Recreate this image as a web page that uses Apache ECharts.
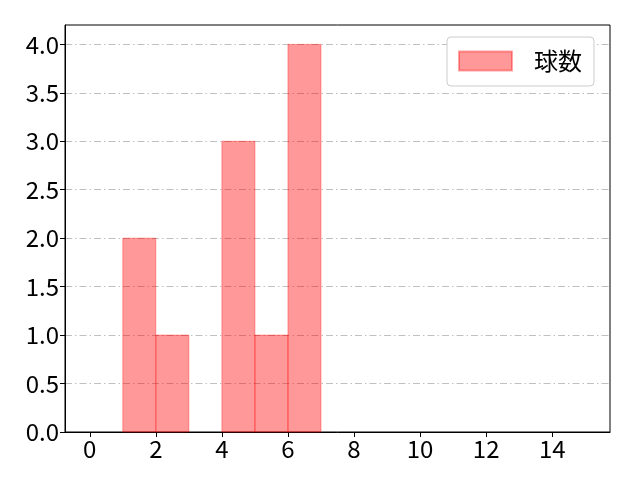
<!DOCTYPE html>
<html><head><meta charset="utf-8">
<script src="https://cdn.jsdelivr.net/npm/echarts@6/dist/echarts.min.js"></script>
<style>html,body{margin:0;padding:0;background:#fff}#c{width:640px;height:480px}</style>
</head><body><div id="c"></div>
<script>
const binStarts = [0,1,2,3,4,5,6,7,8,9,10,11,12,13,14];
const counts    = [0,2,1,0,3,1,4,0,0,0,0,0,0,0,0];
const binWidth = 1;
const xTicks = [0,2,4,6,8,10,12,14];
const yTicks = [0,0.5,1,1.5,2,2.5,3,3.5,4];
const seriesName = '球数';

const data = binStarts.map((s,i)=>[s, s+binWidth, counts[i]]).filter(d=>d[2]>0);
const font = '"Noto Sans CJK JP", "DejaVu Sans", sans-serif';
const chart = echarts.init(document.getElementById('c'), null, {renderer:'canvas'});
chart.setOption({
  animation:false,
  grid:{left:65,right:30,top:25,bottom:48,show:true,borderColor:'#000',borderWidth:1,backgroundColor:'transparent'},
  legend:{
    data:[{name:seriesName,icon:'rect'}],
    left:447, top:37,
    padding:[12,12,13,11],
    itemWidth:53, itemHeight:19,
    borderColor:'#cccccc', borderWidth:1, borderRadius:4,
    backgroundColor:'#fff',
    textStyle:{fontFamily:font,fontSize:24,color:'#000',padding:[0,0,0,17]}
  },
  xAxis:{
    type:'value', min:-0.75, max:15.75,
    axisLine:{show:true,onZero:false,lineStyle:{color:'#000'}},
    axisTick:{show:true,inside:false,length:5,lineStyle:{color:'#000'},customValues:xTicks},
    axisLabel:{fontFamily:font,fontSize:24,color:'#000',margin:5,customValues:xTicks,formatter:v=>String(v)},
    splitLine:{show:false}
  },
  yAxis:{
    type:'value', min:0, max:4.2, interval:0.5,
    axisLine:{show:true,onZero:false,lineStyle:{color:'#000'}},
    axisTick:{show:true,inside:false,length:5,lineStyle:{color:'#000'},customValues:yTicks},
    axisLabel:{fontFamily:font,fontSize:24,color:'#000',margin:6,customValues:yTicks,formatter:v=>v.toFixed(1)},
    splitLine:{show:true,lineStyle:{color:'#b0b0b0',width:0.8,type:[7,3,1.5,3]}}
  },
  series:[{
    name:seriesName,
    type:'custom',
    itemStyle:{color:'rgba(255,0,0,0.4)',borderColor:'rgba(255,0,0,0.35)',borderWidth:1},
    renderItem:function(params,api){
      const p0 = api.coord([api.value(0), api.value(2)]);
      const p1 = api.coord([api.value(1), 0]);
      return {type:'rect',shape:{x:p0[0],y:p0[1],width:p1[0]-p0[0],height:p1[1]-p0[1]},
        style:{fill:'rgba(255,0,0,0.4)',stroke:'rgba(255,0,0,0.35)',lineWidth:1}};
    },
    encode:{x:[0,1],y:2},
    data:data
  }]
});
</script></body></html>
